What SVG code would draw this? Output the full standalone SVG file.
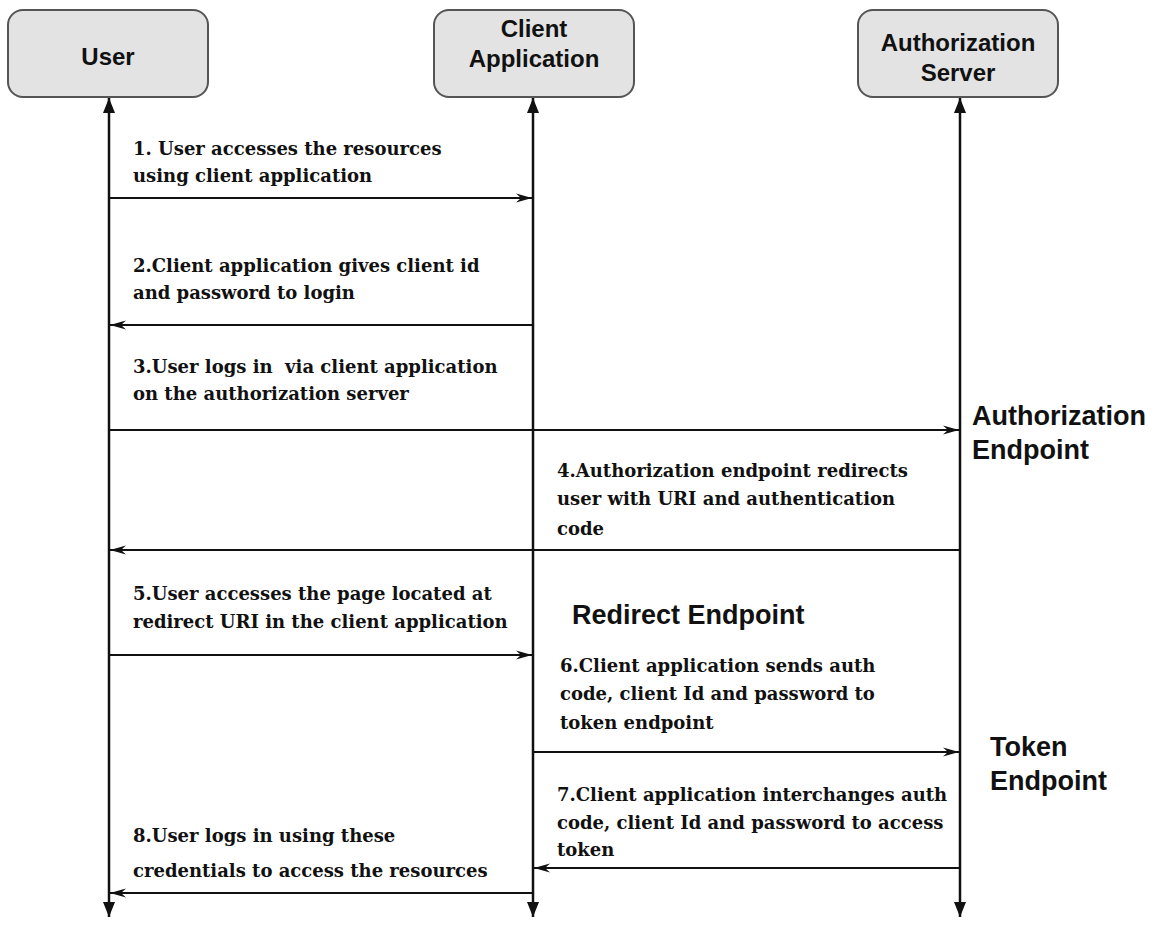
<svg xmlns="http://www.w3.org/2000/svg" width="1160" height="928" viewBox="0 0 1160 928">
<style>
.box{fill:#e3e3e3;stroke:#555;stroke-width:2}
.hd{font-family:"Liberation Sans",Arial,sans-serif;font-weight:bold;font-size:24px;fill:#111;text-anchor:middle}
.ep{font-family:"Liberation Sans",Arial,sans-serif;font-weight:bold;font-size:27px;fill:#111}
.st{font-family:"DejaVu Serif","Liberation Serif",serif;font-weight:bold;font-size:18px;fill:#111}
.life{stroke:#111;stroke-width:2.5;fill:none}
.msg{stroke:#111;stroke-width:2;fill:none}
</style>
<defs>
<marker id="tri" viewBox="0 0 15 12" refX="15" refY="6" markerWidth="15" markerHeight="12" markerUnits="userSpaceOnUse" orient="auto-start-reverse">
<path d="M0,0 L15,6 L0,12 z" fill="#111"/>
</marker>
<marker id="arr" viewBox="0 0 16 10" refX="16" refY="5" markerWidth="16" markerHeight="10" markerUnits="userSpaceOnUse" orient="auto">
<path d="M0,0.5 L16,5 L0,9.5 L5,5 z" fill="#111"/>
</marker>
</defs>
<rect width="1160" height="928" fill="#fff"/>
<g id="user">
<rect class="box" x="8" y="10" width="200" height="87" rx="15"/>
<text class="hd" x="108" y="65">User</text>
</g>
<g id="client">
<rect class="box" x="434" y="10" width="200" height="87" rx="15"/>
<text class="hd" x="534" y="37">Client</text>
<text class="hd" x="534" y="67">Application</text>
</g>
<g id="authserver">
<rect class="box" x="858" y="10" width="200" height="87" rx="15"/>
<text class="hd" x="958" y="51">Authorization</text>
<text class="hd" x="958" y="81">Server</text>
</g>
<g id="connectors">
<path class="life" d="M109,98 V917" marker-start="url(#tri)" marker-end="url(#tri)"/>
<path class="life" d="M533,98 V917" marker-start="url(#tri)" marker-end="url(#tri)"/>
<path class="life" d="M960,98 V917" marker-start="url(#tri)" marker-end="url(#tri)"/>
<path class="msg" d="M109,198 H532" marker-end="url(#arr)"/>
<path class="msg" d="M533,325 H110" marker-end="url(#arr)"/>
<path class="msg" d="M109,430 H959" marker-end="url(#arr)"/>
<path class="msg" d="M960,550 H110" marker-end="url(#arr)"/>
<path class="msg" d="M109,655 H532" marker-end="url(#arr)"/>
<path class="msg" d="M533,752 H959" marker-end="url(#arr)"/>
<path class="msg" d="M960,868 H534" marker-end="url(#arr)"/>
<path class="msg" d="M533,893 H110" marker-end="url(#arr)"/>
</g>
<g id="labels">
<text class="st" x="133" y="155">1. User accesses the resources</text>
<text class="st" x="133" y="182">using client application</text>
<text class="st" x="133" y="272">2.Client application gives client id</text>
<text class="st" x="133" y="299">and password to login</text>
<text class="st" x="133" y="373">3.User logs in&#160; via client application</text>
<text class="st" x="133" y="400">on the authorization server</text>
<text class="ep" x="972" y="425">Authorization</text>
<text class="ep" x="972" y="459">Endpoint</text>
<text class="st" x="557" y="477">4.Authorization endpoint redirects</text>
<text class="st" x="557" y="505">user with URI and authentication</text>
<text class="st" x="557" y="535">code</text>
<text class="st" x="133" y="600">5.User accesses the page located at</text>
<text class="st" x="133" y="628">redirect URI in the client application</text>
<text class="ep" x="572" y="624">Redirect Endpoint</text>
<text class="st" x="560" y="672">6.Client application sends auth</text>
<text class="st" x="560" y="700">code, client Id and password to</text>
<text class="st" x="560" y="729">token endpoint</text>
<text class="ep" x="990" y="756">Token</text>
<text class="ep" x="990" y="790">Endpoint</text>
<text class="st" x="557" y="801">7.Client application interchanges auth</text>
<text class="st" x="557" y="829">code, client Id and password to access</text>
<text class="st" x="557" y="856">token</text>
<text class="st" x="133" y="842">8.User logs in using these</text>
<text class="st" x="133" y="877">credentials to access the resources</text>
</g>
</svg>
